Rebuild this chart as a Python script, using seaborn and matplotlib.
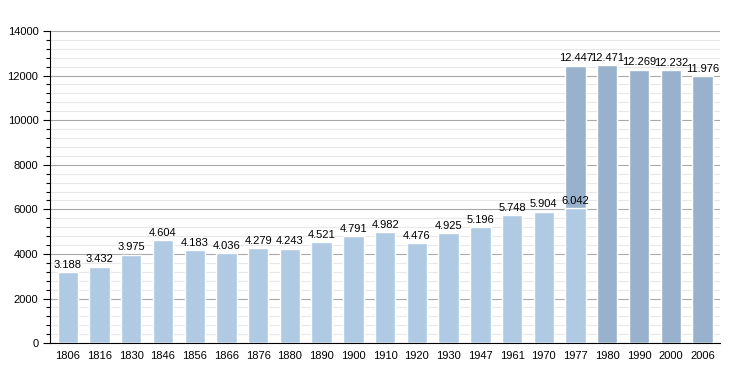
import pandas as pd
import seaborn as sns
import matplotlib.pyplot as plt
from matplotlib.ticker import MultipleLocator

years = ['1806', '1816', '1830', '1846', '1856', '1866', '1876', '1880', '1890', '1900',
         '1910', '1920', '1930', '1947', '1961', '1970', '1977', '1980', '1990', '2000', '2006']
old_years = years[:17]
old_pop = [3188, 3432, 3975, 4604, 4183, 4036, 4279, 4243, 4521, 4791,
           4982, 4476, 4925, 5196, 5748, 5904, 6042]
new_years = ['1977', '1980', '1990', '2000', '2006']
new_pop = [12447, 12471, 12269, 12232, 11976]

df_old = pd.DataFrame({'Année': old_years, 'Population': old_pop})
df_new = pd.DataFrame({'Année': new_years, 'Population': new_pop})

sns.set_style('white')
plt.rcParams['font.family'] = ['Liberation Sans', 'DejaVu Sans']
plt.rcParams['text.color'] = 'black'
plt.rcParams['xtick.color'] = 'black'
plt.rcParams['ytick.color'] = 'black'

fig = plt.figure(figsize=(7.5, 3.73), dpi=100)
ax = fig.add_axes([0.067, 0.080, 0.893, 0.837])

sns.barplot(data=df_new, x='Année', y='Population', order=years, color='#98b1cd',
            saturation=1, width=0.64, ax=ax, zorder=3)
sns.barplot(data=df_old, x='Année', y='Population', order=years, color='#b1cae4',
            saturation=1, width=0.64, ax=ax, zorder=4)

def fmt(v):
    return f'{v:,}'.replace(',', '.')

for y, v in zip(old_years, old_pop):
    ax.text(years.index(y), v + 100, fmt(v), ha='center', va='bottom', fontsize=8, color='black', zorder=5)
for y, v in zip(new_years, new_pop):
    ax.text(years.index(y), v + 100, fmt(v), ha='center', va='bottom', fontsize=8, color='black', zorder=5)

ax.set_ylim(0, 14000)
ax.set_xlim(-0.55, len(years) - 0.45)
ax.yaxis.set_major_locator(MultipleLocator(2000))
ax.yaxis.set_minor_locator(MultipleLocator(400))
ax.grid(which='major', axis='y', color='#a8a8a8', linewidth=0.8, zorder=0)
ax.grid(which='minor', axis='y', color='#e8e8e8', linewidth=0.8, zorder=0)
ax.set_axisbelow(True)

for s in ['top', 'right']:
    ax.spines[s].set_visible(False)
ax.spines['left'].set_color('black')
ax.spines['bottom'].set_color('black')
ax.tick_params(axis='y', which='major', left=True, length=5, width=0.8, labelsize=8, colors='black')
ax.tick_params(axis='y', which='minor', left=True, length=3, width=0.8, colors='black')
ax.tick_params(axis='x', bottom=False, labelsize=8, pad=2, colors='black')
ax.set_xlabel('')
ax.set_ylabel('')

plt.savefig('out.png', dpi=100)
